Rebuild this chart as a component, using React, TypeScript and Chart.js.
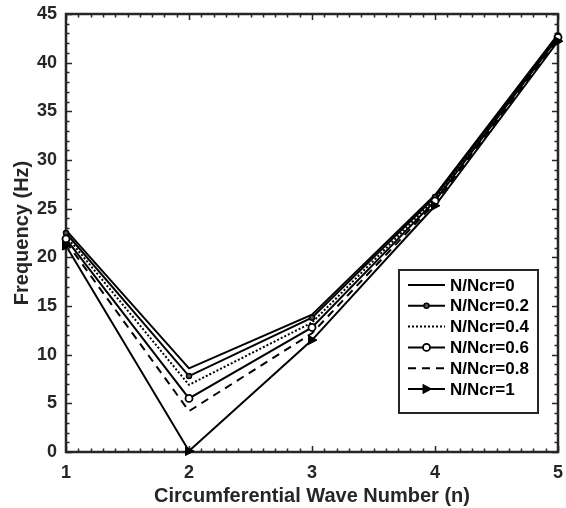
import React, { useEffect, useRef } from "react";
import { Chart, registerables } from "chart.js";

Chart.register(...registerables);

const waveNumbers = [1, 2, 3, 4, 5];
const seriesLabels = ["N/Ncr=0", "N/Ncr=0.2", "N/Ncr=0.4", "N/Ncr=0.6", "N/Ncr=0.8", "N/Ncr=1"];
const freq0 = [22.8, 8.6, 14.1, 26.4, 42.9];
const freq02 = [22.5, 7.8, 13.8, 26.2, 42.8];
const freq04 = [22.2, 6.9, 13.3, 26.0, 42.7];
const freq06 = [21.9, 5.5, 12.8, 25.8, 42.6];
const freq08 = [21.6, 4.2, 12.2, 25.6, 42.4];
const freq1 = [21.2, 0.1, 11.5, 25.3, 42.2];
const yTicks = [0, 5, 10, 15, 20, 25, 30, 35, 40, 45];

const AXIS = "#262626";
const FONT = "Arial, 'Liberation Sans', sans-serif";

type Style = {
  dash: number[];
  marker: "none" | "smallCircle" | "circle" | "triangle";
};
const styles: Style[] = [
  { dash: [], marker: "none" },
  { dash: [], marker: "smallCircle" },
  { dash: [2, 2], marker: "none" },
  { dash: [], marker: "circle" },
  { dash: [8, 6], marker: "none" },
  { dash: [], marker: "triangle" },
];

function drawMarker(ctx: CanvasRenderingContext2D, m: Style["marker"], x: number, y: number) {
  ctx.save();
  ctx.setLineDash([]);
  ctx.strokeStyle = "#000";
  if (m === "smallCircle") {
    ctx.beginPath();
    ctx.arc(x, y, 2.5, 0, Math.PI * 2);
    ctx.fillStyle = "#555";
    ctx.fill();
    ctx.lineWidth = 1.5;
    ctx.stroke();
  } else if (m === "circle") {
    ctx.beginPath();
    ctx.arc(x, y, 3.5, 0, Math.PI * 2);
    ctx.fillStyle = "#fff";
    ctx.fill();
    ctx.lineWidth = 1.8;
    ctx.stroke();
  } else if (m === "triangle") {
    ctx.beginPath();
    ctx.moveTo(x + 5, y);
    ctx.lineTo(x - 3.5, y - 4.5);
    ctx.lineTo(x - 3.5, y + 4.5);
    ctx.closePath();
    ctx.fillStyle = "#000";
    ctx.fill();
    ctx.lineWidth = 1;
    ctx.stroke();
  }
  ctx.restore();
}

const framePlugin = {
  id: "frame",
  afterDatasetsDraw(chart: any) {
    const { ctx, chartArea } = chart;
    const xs = chart.scales.x;
    const ys = chart.scales.y;
    const { left, right, top, bottom } = chartArea;
    ctx.save();
    ctx.strokeStyle = AXIS;
    ctx.lineWidth = 1.5;
    for (let i = 0; i <= 40; i++) {
      const v = 1 + i * 0.1;
      const px = Math.round(xs.getPixelForValue(v)) + 0.5;
      const len = i % 10 === 0 ? 6 : 3.5;
      ctx.beginPath();
      ctx.moveTo(px, bottom);
      ctx.lineTo(px, bottom - len);
      ctx.moveTo(px, top);
      ctx.lineTo(px, top + len);
      ctx.stroke();
    }
    for (let v = 0; v <= 45; v++) {
      const py = Math.round(ys.getPixelForValue(v)) + 0.5;
      const len = v % 5 === 0 ? 6 : 3.5;
      ctx.beginPath();
      ctx.moveTo(left, py);
      ctx.lineTo(left + len, py);
      ctx.moveTo(right, py);
      ctx.lineTo(right - len, py);
      ctx.stroke();
    }
    ctx.lineWidth = 2.5;
    ctx.strokeRect(left, top, right - left, bottom - top);

    chart.data.datasets.forEach((ds: any, di: number) => {
      const st = styles[di];
      if (st.marker === "none") return;
      ds.data.forEach((p: any) => {
        drawMarker(ctx, st.marker, xs.getPixelForValue(p.x), ys.getPixelForValue(p.y));
      });
    });

    // legend
    const lx = 399, ly = 270, lw = 139, lh = 143;
    ctx.fillStyle = "#fff";
    ctx.fillRect(lx, ly, lw, lh);
    ctx.lineWidth = 2;
    ctx.strokeStyle = AXIS;
    ctx.strokeRect(lx, ly, lw, lh);
    ctx.font = `bold 17px ${FONT}`;
    ctx.textBaseline = "middle";
    ctx.textAlign = "left";
    seriesLabels.forEach((lab, i) => {
      const y = ly + 15 + i * 20.8;
      ctx.save();
      ctx.strokeStyle = "#000";
      ctx.lineWidth = 2;
      ctx.setLineDash(styles[i].dash);
      ctx.beginPath();
      ctx.moveTo(lx + 9, y);
      ctx.lineTo(lx + 46, y);
      ctx.stroke();
      ctx.restore();
      drawMarker(ctx, styles[i].marker, lx + 27.5, y);
      ctx.fillStyle = "#000";
      ctx.fillText(lab, lx + 51, y + 1);
    });
    ctx.restore();
  },
};

export default function App() {
  const ref = useRef<HTMLCanvasElement>(null);
  useEffect(() => {
    if (!ref.current) return;
    const all = [freq0, freq02, freq04, freq06, freq08, freq1];
    const chart = new Chart(ref.current, {
      type: "line",
      data: {
        datasets: all.map((arr, i) => ({
          label: seriesLabels[i],
          data: arr.map((y, j) => ({ x: waveNumbers[j], y })),
          borderColor: "#000",
          borderWidth: 2,
          borderDash: styles[i].dash,
          pointRadius: 0,
          fill: false,
          tension: 0,
          clip: false as any,
        })),
      },
      options: {
        animation: false,
        responsive: false,
        layout: { padding: { top: 14, right: 8, left: 0, bottom: 0 } },
        plugins: { legend: { display: false }, tooltip: { enabled: false } },
        scales: {
          x: {
            type: "linear",
            min: 1,
            max: 5,
            grid: { display: false, drawTicks: false },
            border: { display: false },
            ticks: {
              stepSize: 1,
              padding: 10,
              color: AXIS,
              font: { family: FONT, weight: "bold", size: 18 },
              callback: (v: any) => String(v),
            },
            title: {
              display: true,
              text: "Circumferential Wave Number (n)",
              color: AXIS,
              font: { family: FONT, weight: "bold", size: 20 },
              padding: { top: 0, bottom: 0 },
            },
            afterFit: (s: any) => {
              s.height = 56;
              s.paddingLeft = 0;
              s.paddingRight = 0;
            },
          },
          y: {
            type: "linear",
            min: 0,
            max: 45,
            grid: { display: false, drawTicks: false },
            border: { display: false },
            afterBuildTicks: (s: any) => {
              s.ticks = yTicks.map((v) => ({ value: v }));
            },
            ticks: {
              padding: 9,
              color: AXIS,
              font: { family: FONT, weight: "bold", size: 18 },
            },
            title: {
              display: true,
              text: "Frequency (Hz)",
              color: AXIS,
              font: { family: FONT, weight: "bold", size: 20 },
              padding: { top: 10, bottom: 0 },
            },
            afterFit: (s: any) => {
              s.width = 66;
              s.paddingTop = 0;
              s.paddingBottom = 0;
            },
          },
        },
      },
      plugins: [framePlugin],
    });
    return () => chart.destroy();
  }, []);
  return (
    <div style={{ position: "absolute", left: 0, top: 0, width: 566, height: 508, background: "#fff" }}>
      <canvas ref={ref} width={566} height={508} style={{ width: 566, height: 508, display: "block" }} />
    </div>
  );
}
